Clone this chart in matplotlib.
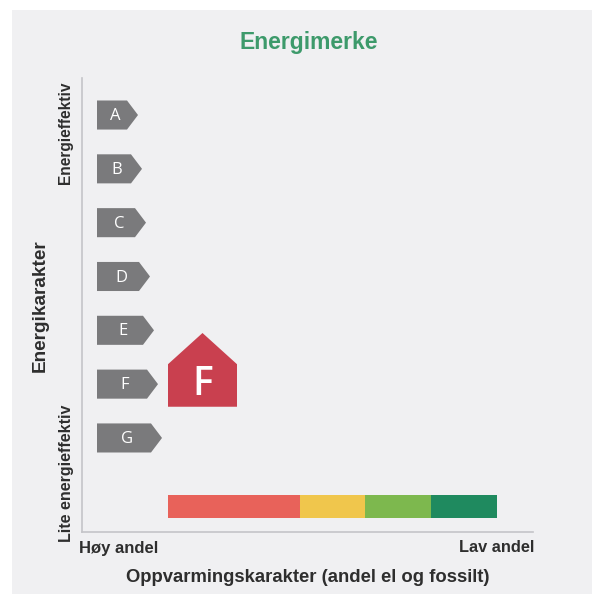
import matplotlib

matplotlib.use("Agg")

import matplotlib.pyplot as plt
from matplotlib.patches import Polygon, Rectangle

# energy grades, best to worst
grades = ["A", "B", "C", "D", "E", "F", "G"]
current_grade = "F"

# heating grade scale (share of electricity and fossil), high share -> low share
heat_colors = ["#e8625a", "#f0c64c", "#7db84e", "#1f8a5f"]
heat_widths = [2, 1, 1, 1]

title = "Energimerke"
x_label = "Oppvarmingskarakter (andel el og fossilt)"
x_left_label = "Høy andel"
x_right_label = "Lav andel"
y_label = "Energikarakter"
y_top_label = "Energieffektiv"
y_bottom_label = "Lite energieffektiv"

plt.rcParams["font.family"] = ["Liberation Sans", "DejaVu Sans"]

W, H = 592, 594
fig = plt.figure(figsize=(W / 100, H / 100), dpi=100)
fig.patch.set_facecolor("white")

# scanned page background
bg = fig.add_axes([12 / W, 0, 1 - 12 / W, 1 - 10 / H])
bg.set_facecolor("#f0f0f2")
bg.set_xticks([])
bg.set_yticks([])
for s in bg.spines.values():
    s.set_visible(False)

# main axes: x in pixels from the y axis, y in grade steps
left, right, top, bottom = 82, 533, 78, 532
ax = fig.add_axes([left / W, 1 - bottom / H, (right - left) / W, (bottom - top) / H])
ax.patch.set_alpha(0)
step = 53.8
ax.set_xlim(0, right - left)
ax.set_ylim(6 + (bottom - 438) / step, -(115 - top) / step)
ax.set_xticks([])
ax.set_yticks([])
for name, s in ax.spines.items():
    s.set_visible(name in ("left", "bottom"))
    s.set_color("#c4c4c8")
    s.set_linewidth(1.2)

arrow_color = "#7a7a7c"
half = 0.27
tip = 11
for i, g in enumerate(grades):
    x0 = 15
    total = 41 + 4 * i
    pts = [(x0, i - half), (x0 + total - tip, i - half), (x0 + total, i),
           (x0 + total - tip, i + half), (x0, i + half)]
    ax.add_patch(Polygon(pts, closed=True, color=arrow_color, lw=0))
    ax.text(x0 + (total - tip) / 2 + 3, i + 0.02, g, color="white", fontsize=12,
            family="Open Sans", ha="center", va="center")

# current grade house
gi = grades.index(current_grade)
hx0, hx1 = 86, 155
house = [(hx0, gi + 0.42), (hx0, gi - 0.37), ((hx0 + hx1) / 2, gi - 0.95),
         (hx1, gi - 0.37), (hx1, gi + 0.42)]
ax.add_patch(Polygon(house, closed=True, color="#c9404f", lw=0))
ax.text((hx0 + hx1) / 2, gi + 0.02, current_grade, color="white", fontsize=28,
        family="Open Sans", fontweight="semibold", ha="center", va="center")

# heating grade bar
unit = 65.8
x = 86
for c, w in zip(heat_colors, heat_widths):
    ax.add_patch(Rectangle((x, 7.06), w * unit, 0.43, color=c, lw=0))
    x += w * unit

text_color = "#2e2e2e"
fig.text(309 / W, 1 - 42 / H, title, color="#3d9a6b", fontsize=16.5,
         fontweight="bold", ha="center", va="center")
fig.text(79 / W, 1 - 548 / H, x_left_label, color=text_color, fontsize=12,
         fontweight="bold", ha="left", va="center")
fig.text(534 / W, 1 - 548 / H, x_right_label, color=text_color, fontsize=11.8,
         fontweight="bold", ha="right", va="center")
fig.text(308 / W, 1 - 577 / H, x_label, color=text_color, fontsize=13.3,
         fontweight="bold", ha="center", va="center")
fig.text(40 / W, 1 - 306 / H, y_label, color=text_color, fontsize=13.7,
         fontweight="bold", rotation=90, ha="center", va="center")
fig.text(66 / W, 1 - 81 / H, y_top_label, color=text_color, fontsize=11.2,
         fontweight="bold", rotation=90, ha="center", va="top")
fig.text(66 / W, 1 - 542 / H, y_bottom_label, color=text_color, fontsize=11.5,
         fontweight="bold", rotation=90, ha="center", va="bottom")

fig.savefig("out.png", dpi=100)
plt.close(fig)
